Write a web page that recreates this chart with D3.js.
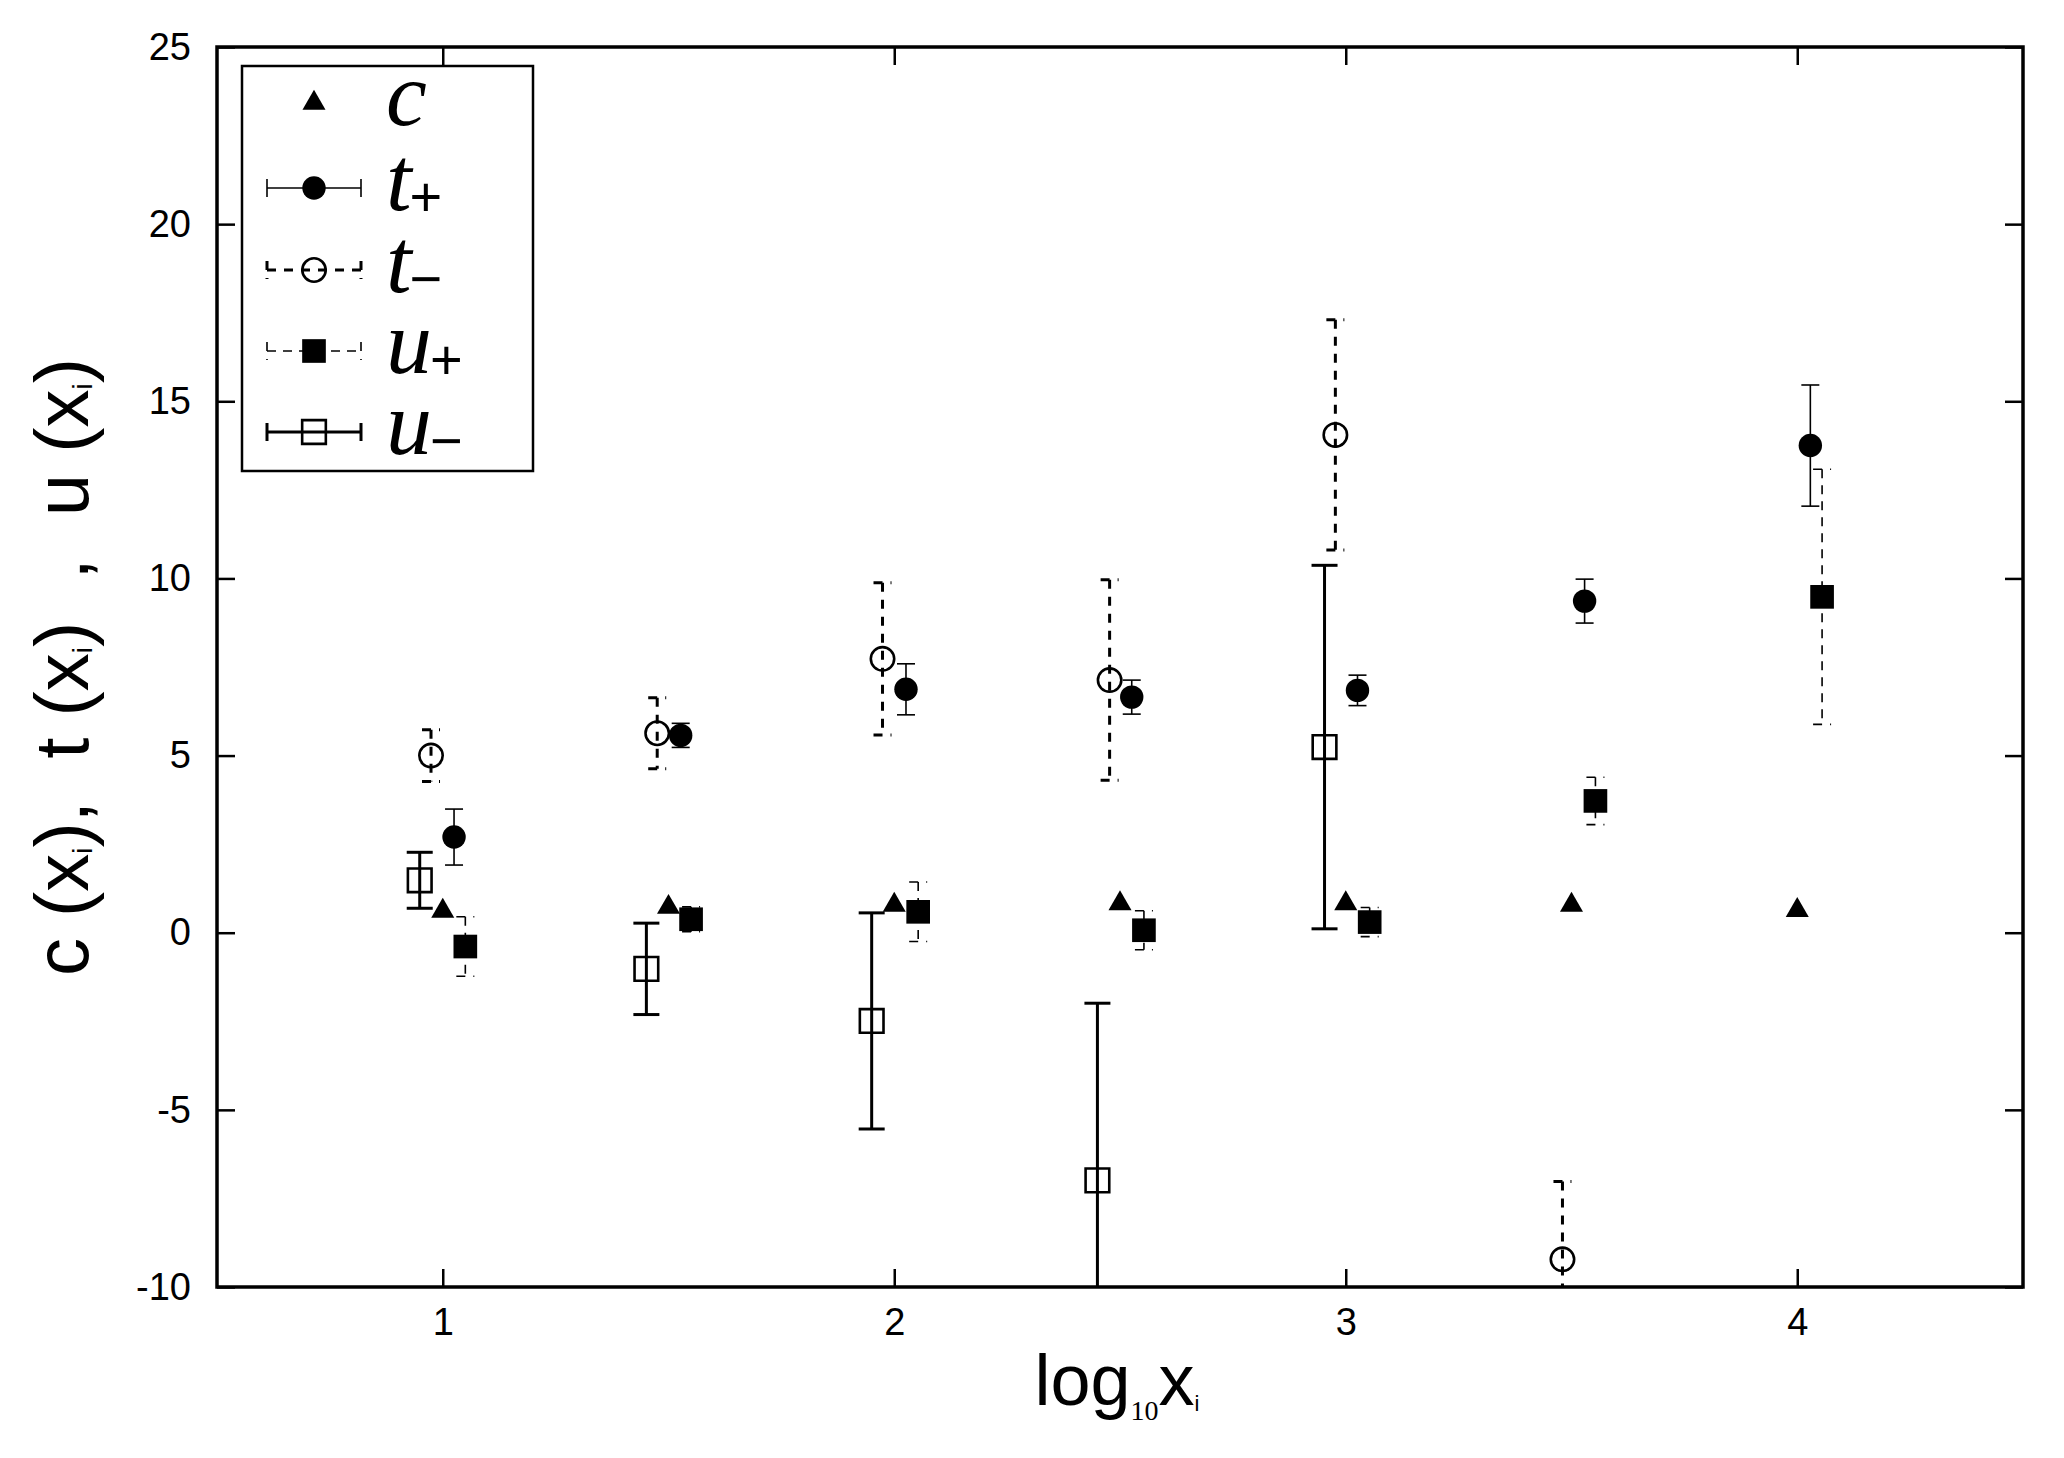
<!DOCTYPE html>
<html>
<head>
<meta charset="utf-8">
<script src="https://cdn.jsdelivr.net/npm/d3@7"></script>
<style>
  body { margin: 0; background: #fff; }
  svg { display: block; }
  text { font-family: "Liberation Sans", Arial, sans-serif; fill: #000; }
</style>
</head>
<body>
<div id="chart"></div>
<script>
// Valores (x = log10 xi com pequeno deslocamento por série)
const cX = [1.0, 1.5, 2.0, 2.5, 3.0, 3.5, 4.0];
const cVal = [0.61, 0.72, 0.78, 0.82, 0.82, 0.78, 0.63];

const tPlusX = [1.025, 1.527, 2.026, 2.526, 3.026, 3.529, 4.029];
const tPlusVal = [2.7, 5.57, 6.87, 6.65, 6.84, 9.36, 13.75];
const tPlusErr = [0.79, 0.34, 0.72, 0.48, 0.43, 0.62, 1.71];

const tMinusX = [0.974, 1.475, 1.974, 2.477, 2.977, 3.48];
const tMinusVal = [5.0, 5.63, 7.73, 7.13, 14.05, -9.22];
const tMinusErr = [0.73, 1.0, 2.15, 2.83, 3.25, 2.2];

const uPlusX = [1.05, 1.55, 2.053, 2.553, 3.053, 3.553, 4.055];
const uPlusVal = [-0.39, 0.38, 0.59, 0.07, 0.30, 3.72, 9.48];
const uPlusErr = [0.84, 0.35, 0.84, 0.55, 0.41, 0.67, 3.6];

const uMinusX = [0.949, 1.451, 1.95, 2.45, 2.953];
const uMinusVal = [1.48, -1.02, -2.49, -6.99, 5.24];
const uMinusErr = [0.79, 1.29, 3.05, 5.0, 5.13];

const xTicks = [1, 2, 3, 4];
const yTicks = [-10, -5, 0, 5, 10, 15, 20, 25];

const W = 2064, H = 1458;
const margin = { top: 47, right: 41, bottom: 171, left: 217 };

const svg = d3.select('#chart').append('svg')
  .attr('width', W).attr('height', H);

const x = d3.scaleLinear().domain([0.5, 4.5]).range([margin.left, W - margin.right]);
const y = d3.scaleLinear().domain([-10, 25]).range([H - margin.bottom, margin.top]);

// Recorte da área do gráfico
svg.append('clipPath').attr('id', 'plot-clip')
  .append('rect')
  .attr('x', x(0.5)).attr('y', y(25))
  .attr('width', x(4.5) - x(0.5)).attr('height', y(-10) - y(25));

// Eixos com ticks para dentro, espelhados
const tickLen = 18;
const plainNum = d => String(d); // hífen simples, como no original
const axisStyle = g => {
  g.select('.domain').remove();
  g.selectAll('.tick line').attr('stroke', '#000').attr('stroke-width', 2.5);
};

svg.append('g')
  .attr('transform', `translate(0,${y(-10)})`)
  .call(d3.axisBottom(x).tickValues(xTicks).tickSize(-tickLen).tickPadding(21).tickFormat(plainNum))
  .call(axisStyle)
  .selectAll('text').style('font-size', '38px').attr('fill', '#000');

svg.append('g')
  .attr('transform', `translate(0,${y(25)})`)
  .call(d3.axisTop(x).tickValues(xTicks).tickSize(-tickLen).tickFormat(''))
  .call(axisStyle);

svg.append('g')
  .attr('transform', `translate(${x(0.5)},0)`)
  .call(d3.axisLeft(y).tickValues(yTicks).tickSize(-tickLen).tickPadding(26).tickFormat(plainNum))
  .call(axisStyle)
  .selectAll('text').style('font-size', '38px').attr('fill', '#000');

svg.append('g')
  .attr('transform', `translate(${x(4.5)},0)`)
  .call(d3.axisRight(y).tickValues(yTicks).tickSize(-tickLen).tickFormat(''))
  .call(axisStyle);

// Moldura
svg.append('rect')
  .attr('x', x(0.5)).attr('y', y(25))
  .attr('width', x(4.5) - x(0.5)).attr('height', y(-10) - y(25))
  .attr('fill', 'none').attr('stroke', '#000').attr('stroke-width', 3.5);

const plot = svg.append('g').attr('clip-path', 'url(#plot-clip)');

// Estilos das barras de erro
const styles = {
  tPlus: { width: 1.6, dash: null, cap: 9 },
  tMinus: { width: 3, dash: '9,8', capDash: '9,8', cap: 9 },
  uPlus: { width: 1.6, dash: '9,7', capDash: '9,8', cap: 9 },
  uMinus: { width: 3, dash: null, cap: 13 }
};

function drawErrors(xs, vals, errs, st) {
  const data = xs.map((d, i) => ({ x: d, v: vals[i], e: errs[i] }));
  const g = plot.append('g').attr('stroke', '#000').attr('fill', 'none');
  g.selectAll('line.bar').data(data).enter().append('line')
    .attr('x1', d => x(d.x)).attr('x2', d => x(d.x))
    .attr('y1', d => y(d.v + d.e)).attr('y2', d => y(d.v - d.e))
    .attr('stroke-width', st.width)
    .attr('stroke-dasharray', st.dash);
  [1, -1].forEach(s => {
    g.selectAll(null).data(data).enter().append('line')
      .attr('x1', d => x(d.x) - st.cap).attr('x2', d => x(d.x) + st.cap)
      .attr('y1', d => y(d.v + s * d.e)).attr('y2', d => y(d.v + s * d.e))
      .attr('stroke-width', st.width)
      .attr('stroke-dasharray', st.capDash || null);
  });
}

drawErrors(tMinusX, tMinusVal, tMinusErr, styles.tMinus);
drawErrors(uMinusX, uMinusVal, uMinusErr, styles.uMinus);
drawErrors(tPlusX, tPlusVal, tPlusErr, styles.tPlus);
drawErrors(uPlusX, uPlusVal, uPlusErr, styles.uPlus);

// Marcadores
const sym = {
  triangle: d3.symbol().type(d3.symbolTriangle).size(230),
  circle: d3.symbol().type(d3.symbolCircle).size(430),
  square: d3.symbol().type(d3.symbolSquare).size(560)
};

function drawMarkers(xs, vals, path, filled) {
  plot.append('g').selectAll('path')
    .data(xs.map((d, i) => ({ x: d, v: vals[i] })))
    .enter().append('path')
    .attr('transform', d => `translate(${x(d.x)},${y(d.v)})`)
    .attr('d', path)
    .attr('fill', filled ? '#000' : 'none')
    .attr('stroke', '#000')
    .attr('stroke-width', filled ? 0 : 2.6);
}

drawMarkers(cX, cVal, sym.triangle(), true);
drawMarkers(tPlusX, tPlusVal, sym.circle(), true);
drawMarkers(tMinusX, tMinusVal, sym.circle(), false);
drawMarkers(uPlusX, uPlusVal, sym.square(), true);
drawMarkers(uMinusX, uMinusVal, sym.square(), false);

// Legenda
const legendItems = [
  { key: 'c', sub: '', marker: sym.triangle(), filled: true, style: null },
  { key: 't', sub: '+', marker: sym.circle(), filled: true, style: styles.tPlus },
  { key: 't', sub: '\u2212', marker: sym.circle(), filled: false, style: styles.tMinus },
  { key: 'u', sub: '+', marker: sym.square(), filled: true, style: styles.uPlus },
  { key: 'u', sub: '\u2212', marker: sym.square(), filled: false, style: styles.uMinus }
];
const legendRows = [103, 188, 270, 351, 432];

svg.append('rect')
  .attr('x', 242).attr('y', 66).attr('width', 291).attr('height', 405)
  .attr('fill', '#fff').attr('stroke', '#000').attr('stroke-width', 2.5);

legendItems.forEach((it, i) => {
  const g = svg.append('g').attr('transform', `translate(0,${legendRows[i]})`);
  if (it.style) {
    const st = it.style;
    g.append('line').attr('x1', 267).attr('x2', 361).attr('y1', 0).attr('y2', 0)
      .attr('stroke', '#000').attr('stroke-width', st.width)
      .attr('stroke-dasharray', st.dash);
    [267, 361].forEach(cx => {
      g.append('line').attr('x1', cx).attr('x2', cx).attr('y1', -9).attr('y2', 9)
        .attr('stroke', '#000').attr('stroke-width', st.width)
        .attr('stroke-dasharray', st.capDash || null);
    });
  }
  g.append('path').attr('transform', 'translate(314,0)').attr('d', it.marker)
    .attr('fill', it.filled ? '#000' : 'none')
    .attr('stroke', '#000').attr('stroke-width', it.filled ? 0 : 2.6);
  const t = g.append('text').attr('x', 386).attr('y', 22);
  t.append('tspan').text(it.key)
    .style('font-family', '"Liberation Serif", "Times New Roman", serif')
    .style('font-style', 'italic').style('font-size', '92px');
  if (it.sub) {
    t.append('tspan').text(it.sub).attr('dy', 6).attr('dx', -2)
      .style('font-size', '56px');
  }
});

// Rótulo do eixo Y (espaços preservados)
const yl = svg.append('text')
  .attr('transform', 'translate(88,667) rotate(-90)')
  .attr('text-anchor', 'middle')
  .attr('xml:space', 'preserve')
  .style('white-space', 'pre')
  .style('font-size', '76px');
const yParts = ['c (x', '),  t (x', ')  ,  u (x', ')'];
yParts.forEach((p, i) => {
  yl.append('tspan').text(p).attr('dy', i === 0 ? 0 : -4);
  if (i < yParts.length - 1) {
    yl.append('tspan').text('i').attr('dy', 4).style('font-size', '28px');
  }
});

// Rótulo do eixo X
const xl = svg.append('text')
  .attr('x', 1117).attr('y', 1405)
  .attr('text-anchor', 'middle')
  .style('font-size', '72px');
xl.append('tspan').text('log');
xl.append('tspan').text('10').attr('dy', 15)
  .style('font-family', '"Liberation Serif", serif').style('font-size', '28px');
xl.append('tspan').text('x').attr('dy', -15);
xl.append('tspan').text('i').attr('dy', 6).style('font-size', '22px');
</script>
</body>
</html>
